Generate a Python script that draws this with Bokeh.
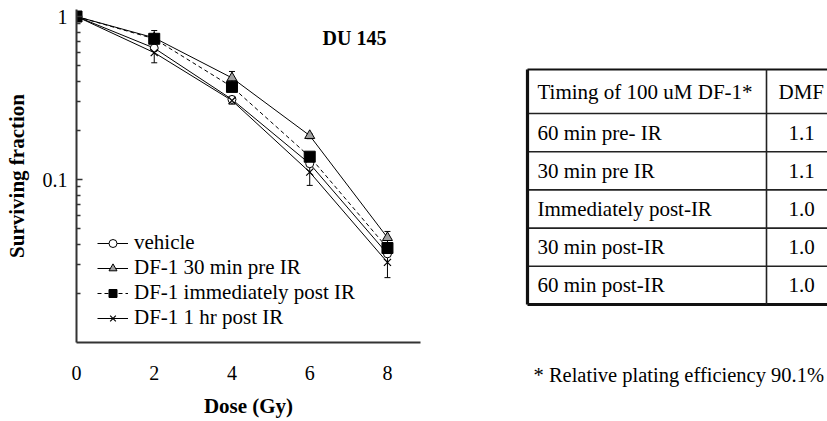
from bokeh.plotting import figure
from bokeh.layouts import row
from bokeh.models import (FixedTicker, CustomJSTickFormatter, Range1d, Legend, LegendItem,
                          Label, Title, ColumnDataSource, Whisker, TeeHead)
from bokeh.core.properties import value
from bokeh.embed import file_html
from bokeh.resources import INLINE

FONT = "Liberation Serif"

# ---------------- data ----------------
dose = [0, 2, 4, 6, 8]
vehicle = [1.0, 0.64, 0.31, 0.125, 0.035]
pre30 = [1.0, 0.74, 0.42, 0.186, 0.044]
post0 = [1.0, 0.73, 0.37, 0.138, 0.038]
post60 = [1.0, 0.60, 0.305, 0.111, 0.031]

pre30_hi = [1.0, 0.82, 0.46, 0.19, 0.048]
pre30_lo = [1.0, 0.68, 0.39, 0.178, 0.041]
post60_hi = [1.0, 0.66, 0.32, 0.13, 0.036]
post60_lo = [1.0, 0.52, 0.29, 0.092, 0.025]

series_names = ["vehicle", "DF-1 30 min pre IR", "DF-1 immediately post IR", "DF-1 1 hr post IR"]
x_ticks = [0, 2, 4, 6, 8]
y_major = [0.1, 1]
y_minor = [0.02, 0.03, 0.04, 0.05, 0.06, 0.07, 0.08, 0.09,
           0.2, 0.3, 0.4, 0.5, 0.6, 0.7, 0.8, 0.9]

timing = ["60 min pre- IR", "30 min pre IR", "Immediately post-IR", "30 min post-IR", "60 min post-IR"]
dmf = ["1.1", "1.1", "1.0", "1.0", "1.0"]
table_header = ["Timing of 100 uM DF-1*", "DMF"]
footnote = "* Relative plating efficiency 90.1%"
cell_line = "DU 145"

# ---------------- layout constants (screen px) ----------------
W, H = 827, 421
P_W = 440
FR_TOP, FR_BOTTOM = 9, 342      # frame top / bottom (both panels share them)
FR_LEFT, FR_RIGHT = 76, 420

# ---------------- survival plot ----------------
p = figure(width=P_W, height=H, y_axis_type="log",
           x_range=Range1d(0, 8.85), y_range=Range1d(0.01, 1.104),
           output_backend="svg", toolbar_location=None,
           min_border_left=FR_LEFT, min_border_top=FR_TOP,
           min_border_right=P_W - FR_RIGHT, min_border_bottom=H - FR_BOTTOM)
p.outline_line_color = None
p.grid.visible = False
p.background_fill_color = "white"

p.xaxis.ticker = FixedTicker(ticks=x_ticks)
p.xaxis.major_tick_in = 0
p.xaxis.major_tick_out = 0
p.xaxis.minor_tick_in = 0
p.xaxis.minor_tick_out = 0
p.xaxis.major_label_standoff = 23
p.xaxis.axis_label = "Dose (Gy)"
p.xaxis.axis_label_standoff = 11

p.yaxis.ticker = FixedTicker(ticks=y_major, minor_ticks=y_minor)
p.yaxis.formatter = CustomJSTickFormatter(code="return tick >= 1 ? tick.toFixed(0) : tick.toString();")
p.yaxis.major_tick_in = 6
p.yaxis.major_tick_out = 0
p.yaxis.minor_tick_in = 4
p.yaxis.minor_tick_out = 0
p.yaxis.major_label_standoff = 9
p.yaxis.axis_label = "Surviving fraction"
p.yaxis.axis_label_standoff = 11

for ax in (p.xaxis, p.yaxis):
    ax.axis_line_color = "#333333"
    ax.axis_line_width = 2
    ax.major_tick_line_color = "#333333"
    ax.minor_tick_line_color = "#333333"
    ax.major_tick_line_width = 1.3
    ax.minor_tick_line_width = 1.3
    ax.major_label_text_font = FONT
    ax.major_label_text_font_size = "20px"
    ax.major_label_text_color = "black"
    ax.axis_label_text_font = FONT
    ax.axis_label_text_font_size = "21px"
    ax.axis_label_text_font_style = "bold"
    ax.axis_label_text_color = "black"

# error bars
src_pre = ColumnDataSource(dict(x=dose, lo=pre30_lo, hi=pre30_hi))
src_post = ColumnDataSource(dict(x=dose, lo=post60_lo, hi=post60_hi))
for src in (src_pre, src_post):
    w = Whisker(source=src, base="x", lower="lo", upper="hi", line_color="black", line_width=1,
                upper_head=TeeHead(size=6, line_color="black", line_width=1),
                lower_head=TeeHead(size=6, line_color="black", line_width=1))
    p.add_layout(w)

# lines
l_veh = p.line(dose, vehicle, line_color="black", line_width=1)
l_pre = p.line(dose, pre30, line_color="black", line_width=1)
l_p0 = p.line(dose, post0, line_color="black", line_width=1, line_dash="4 3")
l_p60 = p.line(dose, post60, line_color="black", line_width=1)

# markers
m_veh = p.scatter(dose, vehicle, marker="circle", size=8, fill_color="white", line_color="black", line_width=1)
m_pre = p.scatter(dose, pre30, marker="triangle", size=10, fill_color="#a0a0a0", line_color="black", line_width=1)
m_p60 = p.scatter(dose, post60, marker="x", size=10, line_color="black", line_width=1.2)
m_p0 = p.scatter(dose, post0, marker="square", size=11, fill_color="black", line_color="black")

legend = Legend(items=[
    LegendItem(label=series_names[0], renderers=[l_veh, m_veh]),
    LegendItem(label=series_names[1], renderers=[l_pre, m_pre]),
    LegendItem(label=series_names[2], renderers=[l_p0, m_p0]),
    LegendItem(label=series_names[3], renderers=[l_p60, m_p60]),
], location=(21, 12))
legend.padding = 0
legend.margin = 0
legend.spacing = 0
legend.glyph_width = 31
legend.glyph_height = 20
legend.label_height = 20
legend.label_standoff = 6
legend.label_text_font = FONT
legend.label_text_font_size = "21px"
legend.label_text_color = "black"
legend.border_line_alpha = 0
legend.background_fill_alpha = 0
p.add_layout(legend)

p.add_layout(Label(x=278, y=305, x_units="screen", y_units="screen", text=cell_line,
                   text_font=FONT, text_font_size="20px", text_font_style="bold",
                   text_align="center", text_baseline="middle", text_color="black"))

# ---------------- table panel (coordinates = page pixels) ----------------
t = figure(width=W - P_W, height=H, x_range=Range1d(P_W, W), y_range=Range1d(FR_BOTTOM, FR_TOP),
           output_backend="svg", toolbar_location=None,
           min_border_left=0, min_border_right=0,
           min_border_top=FR_TOP, min_border_bottom=H - FR_BOTTOM)
t.axis.visible = False
t.grid.visible = False
t.outline_line_color = None

tab_left, tab_div, tab_right = 527, 766, 840
tab_top, head_h, row_h = 69, 44, 38.2
n = len(timing)
row_tops = [tab_top + head_h + i * row_h for i in range(n)]
tab_bottom = tab_top + head_h + n * row_h

t.segment(x0=[tab_left] * n, y0=row_tops, x1=[tab_right] * n, y1=row_tops, line_color="#222222", line_width=1.6)
t.segment(x0=[tab_left], y0=[tab_top], x1=[tab_right], y1=[tab_top], line_color="#111111", line_width=2.2)
t.segment(x0=[tab_left], y0=[tab_bottom], x1=[tab_right], y1=[tab_bottom], line_color="#111111", line_width=3.2)
t.segment(x0=[tab_div, tab_right], y0=[tab_top] * 2, x1=[tab_div, tab_right], y1=[tab_bottom] * 2,
          line_color="#222222", line_width=1.6)
t.segment(x0=[tab_left], y0=[tab_top], x1=[tab_left], y1=[tab_bottom], line_color="#111111", line_width=3.2)

txt = dict(text_font=value(FONT), text_font_size="21px", text_baseline="middle", text_color="black")
t.text(x=[tab_left + 10], y=[tab_top + head_h / 2], text=[table_header[0]], text_align="left", **txt)
t.text(x=[tab_div + 12], y=[tab_top + head_h / 2], text=[table_header[1]], text_align="left", **txt)
t.text(x=[tab_left + 10] * n, y=[r + row_h / 2 for r in row_tops], text=timing, text_align="left", **txt)
t.text(x=[(tab_div + tab_right) / 2 - 2] * n, y=[r + row_h / 2 for r in row_tops], text=dmf,
       text_align="center", **txt)

# footnote below the table panel's frame
t.add_layout(Title(text=footnote, align="left", offset=533 - P_W, standoff=38,
                   text_font=FONT, text_font_size="20.5px", text_font_style="normal",
                   text_color="black"), "below")

layout = row(p, t)
open("out.html", "w").write(file_html(layout, INLINE))
